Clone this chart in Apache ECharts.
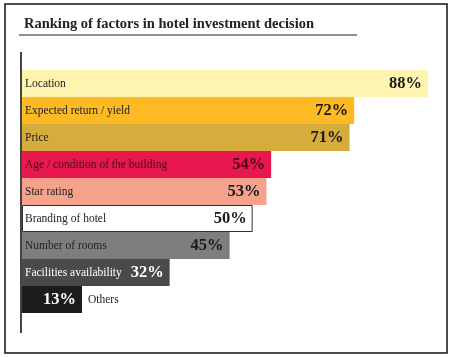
<!DOCTYPE html>
<html>
<head>
<meta charset="utf-8">
<script src="https://cdn.jsdelivr.net/npm/echarts@6/dist/echarts.min.js"></script>
<style>
html,body{margin:0;padding:0;background:#fff;}
#chart{width:453px;height:357px;}
</style>
</head>
<body>
<div id="chart"></div>
<script>
var titleText = 'Ranking of factors in hotel investment decision';
var categories = ['Location','Expected return / yield','Price','Age / condition of the building','Star rating','Branding of hotel','Number of rooms','Facilities availability','Others'];
var values = [88,72,71,54,53,50,45,32,13];
var barColors = ['#FEF4B0','#FDBA22','#D6AC3C','#E8184F','#F6A28D','#FFFFFF','#7E7E7E','#4A4A4A','#1C1C1C'];
var nameColors = ['#222','#222','#222','#4a0a1c','#222','#222','#222','#FFFFFF','#222'];
var valueColors = ['#1a1a1a','#1a1a1a','#1a1a1a','#4a0a1c','#1a1a1a','#1a1a1a','#1a1a1a','#FFFFFF','#FFFFFF'];

var FONT = '"Liberation Serif", "DejaVu Serif", serif';

var nameData = values.map(function(v,i){
  var isOutside = (categories[i] === 'Others');
  return {
    value: v,
    itemStyle: {
      color: barColors[i],
      borderColor: barColors[i] === '#FFFFFF' ? '#333' : barColors[i],
      borderWidth: barColors[i] === '#FFFFFF' ? 1 : 0
    },
    label: {
      show: true,
      position: isOutside ? 'right' : 'insideLeft',
      distance: isOutside ? 6 : 3,
      formatter: categories[i],
      color: nameColors[i],
      fontFamily: FONT,
      fontSize: 11.5
    }
  };
});
var valueData = values.map(function(v,i){
  return {
    value: v,
    label: {
      show: true,
      position: 'insideRight',
      distance: 6,
      formatter: v + '%',
      color: valueColors[i],
      fontFamily: FONT,
      fontWeight: 'bold',
      fontSize: 16.5
    }
  };
});

var chart = echarts.init(document.getElementById('chart'), null, {renderer:'canvas'});
chart.setOption({
  backgroundColor: '#fff',
  animation: false,
  title: {
    text: titleText,
    left: 19,
    top: 12,
    textStyle: {fontFamily: FONT, fontWeight: 'bold', fontSize: 14.5, color: '#222'}
  },
  grid: {left: 22, right: 25, top: 70, height: 243, containLabel: false},
  xAxis: {type: 'value', min: 0, max: 88, show: false},
  yAxis: {type: 'category', data: categories, inverse: true, show: false},
  series: [
    {type: 'bar', data: nameData, barCategoryGap: '0%', barGap: '-100%', z: 2},
    {type: 'bar', data: valueData, barCategoryGap: '0%', barGap: '-100%', itemStyle: {color: 'rgba(0,0,0,0)'}, z: 3}
  ],
  graphic: [
    {type: 'rect', shape: {x: 5, y: 4, width: 442, height: 349}, style: {fill: 'none', stroke: '#111', lineWidth: 1.5}, z: 10},
    {type: 'line', shape: {x1: 19, y1: 35, x2: 357, y2: 35}, style: {stroke: '#222', lineWidth: 1.2}, z: 10},
    {type: 'line', shape: {x1: 21, y1: 52, x2: 21, y2: 333}, style: {stroke: '#444', lineWidth: 2}, z: 10}
  ]
});
</script>
</body>
</html>
